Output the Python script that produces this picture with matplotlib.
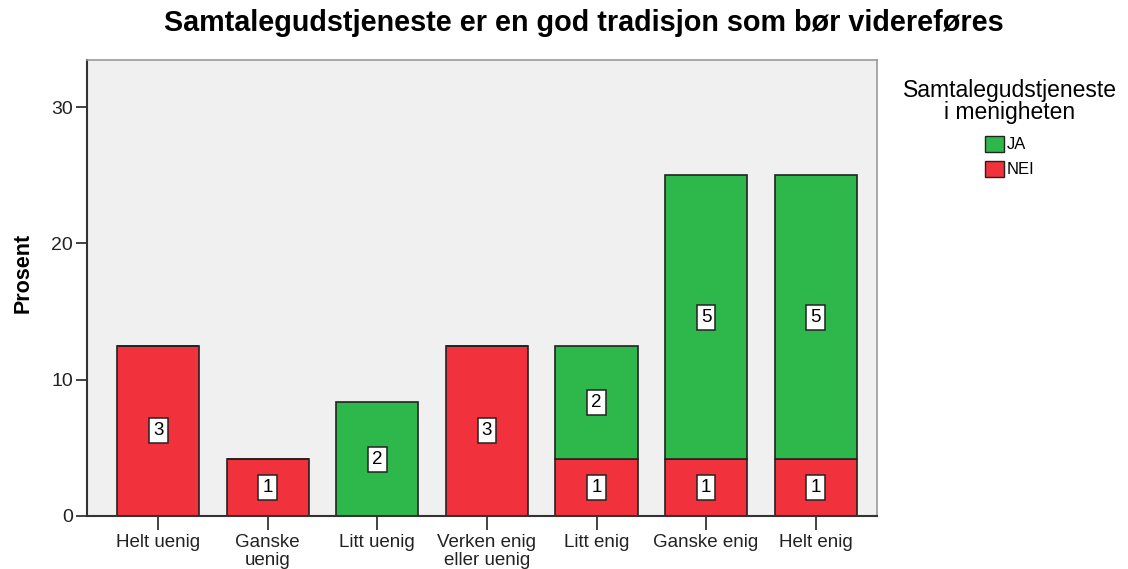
import matplotlib
matplotlib.use("Agg")
import matplotlib.pyplot as plt
import numpy as np
from matplotlib.patches import Patch

plt.rcParams["font.family"] = ["Liberation Sans", "DejaVu Sans"]

KATEGORIER = ["Helt uenig", "Ganske\nuenig", "Litt uenig", "Verken enig\neller uenig",
              "Litt enig", "Ganske enig", "Helt enig"]
# antall svar per kategori
NEI_ANTALL = [3, 1, 0, 3, 1, 1, 1]
JA_ANTALL = [0, 0, 2, 0, 2, 5, 5]
# prosent (av 24)
NEI_PROSENT = [12.5, 4.17, 0, 12.5, 4.17, 4.17, 4.17]
JA_PROSENT = [0, 0, 8.33, 0, 8.33, 20.83, 20.83]

GRONN = "#2eb84b"
ROD = "#f1313b"

fig = plt.figure(figsize=(11.28, 5.69), dpi=100)
ax = fig.add_axes([87 / 1128, 1 - 516 / 569, 790 / 1128, 456 / 569])
ax.set_facecolor("#f0f0f0")

x = np.arange(len(KATEGORIER))
w = 0.75
ax.bar(x, NEI_PROSENT, w, color=ROD, edgecolor="#222222", linewidth=1.2)
ax.bar(x, JA_PROSENT, w, bottom=NEI_PROSENT, color=GRONN, edgecolor="#222222", linewidth=1.2)

boks = dict(boxstyle="square,pad=0.22", fc="white", ec="#222222", lw=1.1)
for i in x:
    if NEI_ANTALL[i]:
        ax.text(i, NEI_PROSENT[i] / 2, str(NEI_ANTALL[i]), ha="center", va="center",
                fontsize=13.5, bbox=boks)
    if JA_ANTALL[i]:
        ax.text(i, NEI_PROSENT[i] + JA_PROSENT[i] / 2, str(JA_ANTALL[i]), ha="center",
                va="center", fontsize=13.5, bbox=boks)

ax.set_xlim(-0.65, 6.56)
ax.set_ylim(0, 33.45)
ax.set_yticks([0, 10, 20, 30])
ax.set_xticks(x)
ax.set_xticklabels(KATEGORIER, fontsize=13.5, linespacing=1.05)
ax.tick_params(axis="y", length=8, width=1.2, labelsize=14, colors="#222222", pad=2)
ax.tick_params(axis="x", length=10, width=1.2, colors="#222222", pad=3)
ax.set_ylabel("Prosent", fontsize=15.5, fontweight="bold")
ax.yaxis.set_label_coords(-53 / 790, (516 - 273) / 456)

for s in ["left", "bottom"]:
    ax.spines[s].set_color("#333333")
    ax.spines[s].set_linewidth(1.5)
for s in ["top", "right"]:
    ax.spines[s].set_color("#999999")
    ax.spines[s].set_linewidth(1.2)

fig.text(584 / 1128, 1 - 23 / 569, "Samtalegudstjeneste er en god tradisjon som bør videreføres",
         ha="center", va="center", fontsize=20.7, fontweight="bold")

leg = fig.legend(handles=[Patch(fc=GRONN, ec="#222222", label="JA"),
                          Patch(fc=ROD, ec="#222222", label="NEI")],
                 title="Samtalegudstjeneste\ni menigheten", loc="upper center",
                 bbox_to_anchor=(1010 / 1128, 1 - 71 / 569), frameon=False,
                 fontsize=12, title_fontsize=16.5, handlelength=1.1, handleheight=1.1,
                 handletextpad=0.2, labelspacing=0.5, borderpad=0)
leg.get_title().set_multialignment("center")
leg.get_title().set_linespacing(0.95)
leg._legend_box.sep = 8

fig.savefig("out.png", dpi=100)
